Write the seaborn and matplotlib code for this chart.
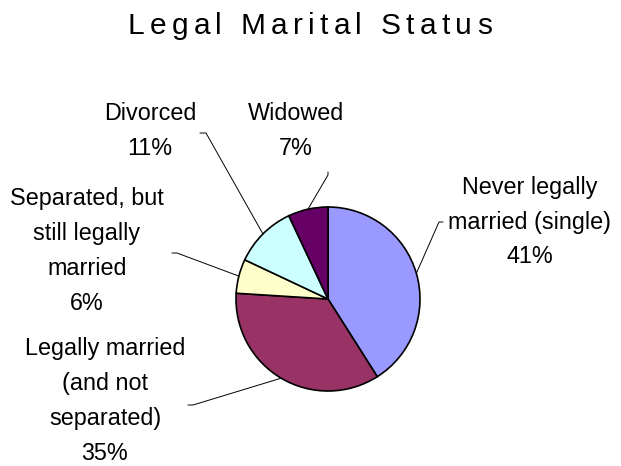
import matplotlib
matplotlib.use('Agg')
import matplotlib.pyplot as plt
import numpy as np
import seaborn as sns

# data
categories = ['Never legally\nmarried (single)', 'Legally married\n(and not\nseparated)',
              'Separated, but\nstill legally\nmarried', 'Divorced', 'Widowed']
shares = [41, 35, 6, 11, 7]
colors = ['#9999FF', '#993366', '#FFFFCC', '#CCFFFF', '#660066']
title = 'Legal Marital Status'

# layout (pixel coordinates, y measured from the top)
W, H = 621, 466
pie_center = (328, 299)
pie_radius = 92
label_pos = [(530, 222), (105, 401), (87, 251), (150, 131), (296, 131)]
elbows = [[(443, 222), (439, 222)],
          [(188, 405), (193, 405)],
          [(172, 253), (177, 253)],
          [(200, 133), (206, 133)],
          [(328, 172), (328, 175)]]

sns.set_style('white')
plt.rcParams['font.family'] = ['Liberation Sans', 'DejaVu Sans']
plt.rcParams['text.color'] = 'black'

fig = plt.figure(figsize=(W / 100, H / 100), dpi=100)
ax = fig.add_axes([0, 0, 1, 1])

wedges, _ = ax.pie(shares, colors=colors, startangle=-90, counterclock=True,
                   center=pie_center, radius=pie_radius,
                   wedgeprops=dict(edgecolor='black', linewidth=1.2))
ax.set_xlim(0, W)
ax.set_ylim(H, 0)
ax.set_aspect('auto')
ax.axis('off')

# labels with leader lines
for w, name, val, pos, elb in zip(wedges, categories, shares, label_pos, elbows):
    mid = np.deg2rad((w.theta1 + w.theta2) / 2)
    rim = (pie_center[0] + pie_radius * np.cos(mid),
           pie_center[1] + pie_radius * np.sin(mid))
    xs = [elb[0][0], elb[1][0], rim[0]]
    ys = [elb[0][1], elb[1][1], rim[1]]
    ax.plot(xs, ys, color='black', linewidth=0.7)
    ax.text(pos[0], pos[1], f'{name}\n{val}%', ha='center', va='center',
            multialignment='center', fontsize=16.8, linespacing=1.66,
            color='black')

# spaced-out title, placed char by char
renderer = fig.canvas.get_renderer()
tsize = 21.5
span = (128, 492)
chars = []
widths = []
for ch in title:
    t = ax.text(0, 34, ch if ch != ' ' else 'a', fontsize=tsize, va='baseline',
                ha='left', color='black')
    wpx = t.get_window_extent(renderer).width
    if ch == ' ':
        wpx = 0.278 * tsize * 100 / 72
        t.set_text(' ')
    chars.append(t)
    widths.append(wpx)
gap = (span[1] - span[0] - sum(widths)) / (len(title) - 1)
x = span[0]
for t, wpx in zip(chars, widths):
    t.set_x(x)
    x += wpx + gap

fig.savefig('out.png', dpi=100)
